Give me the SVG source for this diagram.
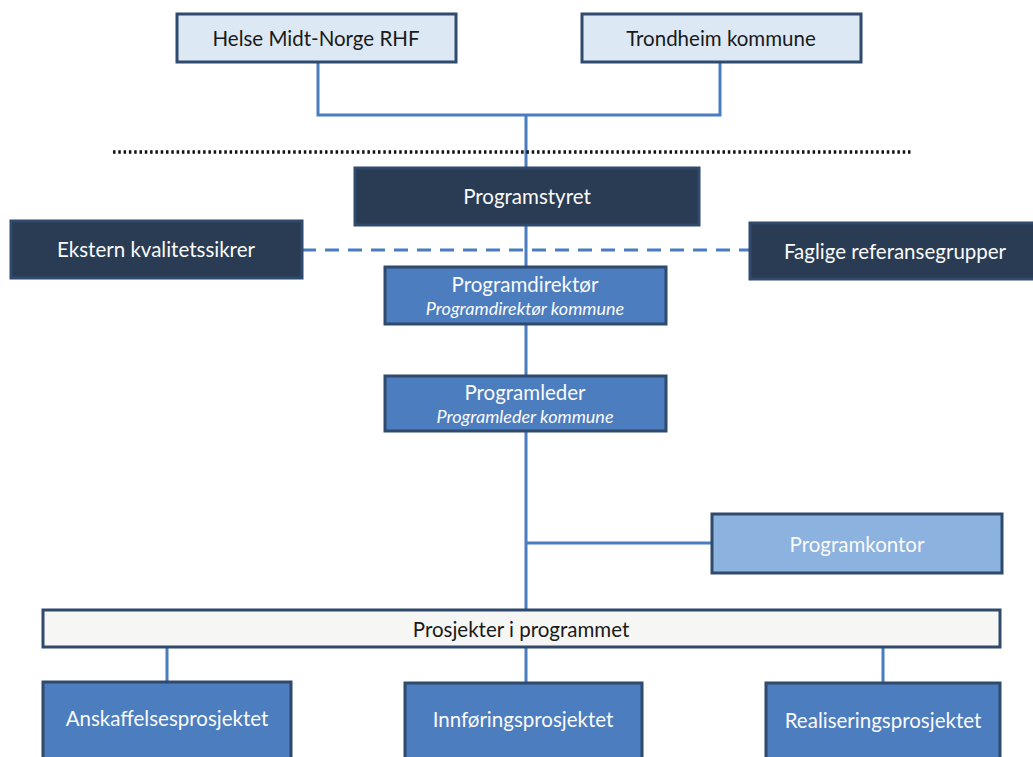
<svg xmlns="http://www.w3.org/2000/svg" width="1033" height="757" viewBox="0 0 1033 757">
<style>
.box{stroke:#2f4a6c;stroke-width:3}
.top{fill:#dce9f5}
.dark{fill:#293c53}
.mid{fill:#4c7dbf}
.light{fill:#8cb2df}
.bar{fill:#f6f6f4}
.t{font-family:Lato,"Open Sans","Liberation Sans",sans-serif;font-size:20.5px;text-anchor:middle}
.tb{fill:#1a1a1a}
.tw{fill:#fafafa}
.ti{font-style:italic;font-size:18px}
.c{fill:none;stroke:#4a7cc0;stroke-width:3}
</style>
<rect width="1033" height="757" fill="#ffffff"/>
<g id="connectors">
<path class="c" d="M318 62V115H720V62M526 115V168M526 225V267M526 324V376M526 431V610M526 543H712M167 647V682M526 647V683M883 647V683"/>
<path d="M302 250H750" fill="none" stroke="#4a7cc0" stroke-width="3" stroke-dasharray="14 9"/>
<path d="M113 152H913" fill="none" stroke="#111" stroke-width="3.5" stroke-dasharray="2.5 2.8"/>
</g>
<g id="helse"><rect class="box top" x="177" y="14" width="279" height="48"/><text class="t tb" x="316" y="46">Helse Midt-Norge RHF</text></g>
<g id="trondheim"><rect class="box top" x="582" y="14" width="279" height="48"/><text class="t tb" x="721" y="46">Trondheim kommune</text></g>
<g id="programstyret"><rect class="box dark" x="355" y="168" width="344" height="57"/><text class="t tw" x="527" y="204">Programstyret</text></g>
<g id="ekstern"><rect class="box dark" x="11" y="221" width="291" height="57"/><text class="t tw" x="156" y="257">Ekstern kvalitetssikrer</text></g>
<g id="faglige"><rect class="box dark" x="750" y="223" width="290" height="56"/><text class="t tw" x="895" y="259">Faglige referansegrupper</text></g>
<g id="programdirektor"><rect class="box mid" x="385" y="267" width="281" height="57"/><text class="t tw" x="525" y="292">Programdirektør</text><text class="t tw ti" x="525" y="315">Programdirektør kommune</text></g>
<g id="programleder"><rect class="box mid" x="385" y="376" width="281" height="55"/><text class="t tw" x="525" y="400">Programleder</text><text class="t tw ti" x="525" y="423">Programleder kommune</text></g>
<g id="programkontor"><rect class="box light" x="712" y="514" width="290" height="59"/><text class="t tw" x="857" y="552">Programkontor</text></g>
<g id="prosjekter"><rect class="box bar" x="43" y="610" width="957" height="37"/><text class="t tb" x="521" y="637">Prosjekter i programmet</text></g>
<g id="anskaffelse"><rect class="box mid" x="43" y="682" width="248" height="80"/><text class="t tw" x="167" y="726">Anskaffelsesprosjektet</text></g>
<g id="innforing"><rect class="box mid" x="405" y="683" width="237" height="80"/><text class="t tw" x="523" y="727">Innføringsprosjektet</text></g>
<g id="realisering"><rect class="box mid" x="766" y="683" width="234" height="80"/><text class="t tw" x="883" y="728">Realiseringsprosjektet</text></g>
</svg>
